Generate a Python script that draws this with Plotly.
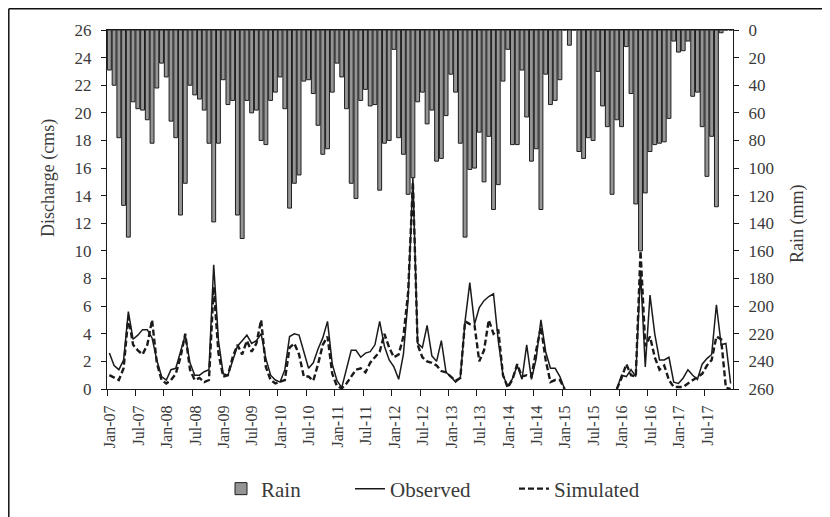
import plotly.graph_objects as go

tick_labels = ["Jan-07", "Jul-07", "Jan-08", "Jul-08", "Jan-09", "Jul-09", "Jan-10", "Jul-10",
               "Jan-11", "Jul-11", "Jan-12", "Jul-12", "Jan-13", "Jul-13", "Jan-14", "Jul-14",
               "Jan-15", "Jul-15", "Jan-16", "Jul-16", "Jan-17", "Jul-17"]

# monthly rain (mm), Jan-07 .. Dec-17
rain = [29, 40, 78, 127, 150, 52, 57, 58, 65, 82, 42, 24,
        34, 66, 78, 134, 111, 40, 47, 50, 58, 82, 139, 82,
        36, 54, 51, 134, 151, 51, 60, 58, 80, 83, 51, 45,
        34, 57, 129, 111, 105, 37, 36, 46, 69, 90, 86, 45,
        24, 34, 57, 111, 122, 51, 43, 55, 54, 116, 82, 80,
        14, 78, 90, 119, 107, 52, 45, 68, 58, 95, 93, 62,
        32, 45, 82, 150, 101, 100, 74, 110, 77, 130, 112, 37,
        14, 83, 83, 29, 63, 95, 86, 130, 32, 54, 51, 36,
        0, 11, 0, 88, 93, 78, 80, 30, 55, 70, 119, 65,
        70, 12, 46, 126, 160, 118, 88, 83, 82, 81, 64, 8,
        16, 15, 8, 48, 45, 70, 106, 77, 128, 2, 0, 0]

N = None  # no discharge record
# observed discharge (cms)
observed = [2.6, 1.7, 1.4, 2.1, 5.6, 3.6, 3.9, 4.3, 4.3, 3.7, 2.1, 0.9,
            0.65, 1.4, 1.5, 2.7, 3.9, 1.9, 1.0, 1.0, 1.25, 1.4, 9.0, 3.5,
            1.1, 1.0, 2.1, 3.1, 3.5, 3.9, 3.3, 3.5, 4.0, 2.2, 1.0, 0.65,
            0.5, 1.4, 3.8, 4.0, 3.9, 2.7, 1.5, 1.9, 2.9, 3.7, 4.9, 1.8,
            0.6, 0.1, 1.5, 2.8, 2.8, 2.3, 2.6, 2.7, 3.2, 4.9, 3.1, 2.1,
            1.6, 0.7, 2.5, 6.5, 15.3, 3.3, 3.0, 4.6, 2.4, 2.0, 3.5, 1.2,
            0.9, 0.5, 0.8, 4.9, 7.7, 4.7, 5.9, 6.4, 6.7, 6.9, 3.5, 1.0,
            0.2, 0.75, 1.7, 0.7, 3.2, 0.7, 2.2, 5.0, 2.7, 1.5, 1.5, 0.9,
            0.0, N, N, N, N, N, N, N, N, N, N, 0.0,
            1.0, 0.9, 1.4, 0.9, 8.5, 1.6, 6.8, 4.0, 2.1, 2.1, 2.3, 0.5,
            0.4, 0.8, 1.4, 1.0, 0.7, 1.8, 2.2, 2.5, 6.1, 3.2, 3.3, 0.4]

# simulated discharge (cms)
simulated = [1.0, 0.8, 0.65, 1.5, 5.2, 3.2, 2.8, 2.5, 3.2, 5.0, 1.9, 0.65,
             0.4, 0.65, 1.1, 2.3, 4.0, 1.4, 0.65, 0.8, 0.5, 0.65, 7.4, 2.6,
             0.9, 1.0, 2.3, 3.2, 2.5, 3.5, 2.7, 3.3, 5.0, 1.6, 0.65, 0.4,
             0.5, 0.65, 3.0, 3.3, 2.5, 0.9, 0.9, 0.6, 1.8, 3.2, 3.8, 1.1,
             0.2, 0.05, 0.4, 0.9, 1.4, 1.5, 1.2, 1.9, 2.3, 2.7, 4.0, 3.0,
             2.3, 2.5, 3.8, 7.0, 15.0, 3.2, 2.3, 2.0, 1.9, 1.7, 1.3, 1.2,
             0.9, 0.6, 0.8, 4.9, 4.7, 4.6, 2.0, 2.8, 5.0, 4.0, 4.3, 1.0,
             0.1, 0.7, 1.8, 0.9, 1.0, 0.9, 2.8, 4.5, 2.1, 0.5, 0.65, 0.65,
             0.0, N, N, N, N, N, N, N, N, N, N, 0.0,
             0.8, 1.8, 1.0, 0.9, 10.0, 3.1, 3.8, 2.3, 1.4, 1.7, 0.65, 0.15,
             0.15, 0.15, 0.4, 0.65, 0.9, 1.1, 1.7, 2.1, 3.8, 3.6, 0.1, 0.0]

month_idx = list(range(len(rain)))
tick_pos = [i * 6 - 0.5 for i in range(len(tick_labels))]

FONT = "Liberation Serif"
INK = "#1a1a1a"
TXT = "#3a3a3a"

# page body adds an 8px offset, so the figure is sized 8px smaller
W, H = 822, 509
ML, MR, MT, MB = 99, 97, 22, 128
PW, PH = W - ML - MR, H - MT - MB


def px(xp):
    return (xp - ML) / PW


def py(yp):
    return (H - MB - yp) / PH


fig = go.Figure()
fig.add_trace(go.Bar(x=month_idx, y=rain, name="Rain", yaxis="y2", legend="legend",
                     marker=dict(color="#959595", line=dict(color="#1e1e1e", width=1)),
                     width=0.82))
fig.add_trace(go.Scatter(x=month_idx, y=observed, name="Observed", mode="lines",
                         legend="legend2", line=dict(color=INK, width=1.5)))
fig.add_trace(go.Scatter(x=month_idx, y=simulated, name="Simulated", mode="lines",
                         legend="legend3",
                         line=dict(color=INK, width=2.4, dash="6px,3px")))

leg_common = dict(orientation="h", yanchor="middle", y=py(481), xanchor="left",
                  font=dict(size=21, color=TXT), bgcolor="rgba(0,0,0,0)")

fig.update_layout(
    width=W, height=H,
    margin=dict(l=ML, r=MR, t=MT, b=MB, autoexpand=False),
    paper_bgcolor="white", plot_bgcolor="white",
    font=dict(family=FONT, size=17, color=TXT),
    showlegend=True,
    legend=dict(x=px(213), **leg_common),
    legend2=dict(x=px(342), **leg_common),
    legend3=dict(x=px(506), **leg_common),
    xaxis=dict(range=[-0.5, 131.5], tickvals=tick_pos, ticktext=tick_labels,
               tickangle=-90, ticks="outside", ticklen=6, tickcolor=INK,
               showline=True, linecolor=INK, linewidth=1.2, mirror=True,
               showgrid=False, zeroline=False, ticklabelshift=3,
               ticklabelstandoff=3, tickfont=dict(size=16)),
    yaxis=dict(range=[0, 26], dtick=2, ticks="outside", ticklen=5, tickcolor=INK,
               showline=True, linecolor=INK, linewidth=1.2, showgrid=False,
               zeroline=False, ticklabelstandoff=6),
    yaxis2=dict(range=[260, 0], dtick=20, overlaying="y", side="right",
                ticks="outside", ticklen=5, tickcolor=INK, showline=True,
                linecolor=INK, linewidth=1.2, showgrid=False, zeroline=False,
                ticklabelstandoff=6),
    bargap=0.15,
    annotations=[
        dict(text="Discharge (cms)", textangle=-90, xref="paper", yref="paper",
             x=px(40), y=py(170), xanchor="center", yanchor="middle",
             showarrow=False, font=dict(size=18, color=TXT)),
        dict(text="Rain (mm)", textangle=-90, xref="paper", yref="paper",
             x=px(789), y=py(216), xanchor="center", yanchor="middle",
             showarrow=False, font=dict(size=18, color=TXT)),
    ],
    shapes=[
        dict(type="line", xref="paper", yref="paper", x0=px(0.8), x1=1.3,
             y0=py(0.8), y1=py(0.8), line=dict(color="#111111", width=1.5)),
        dict(type="line", xref="paper", yref="paper", x0=px(0.8), x1=px(0.8),
             y0=py(0.8), y1=-0.5, line=dict(color="#111111", width=1.5)),
    ],
)

fig.write_html("out.html")
